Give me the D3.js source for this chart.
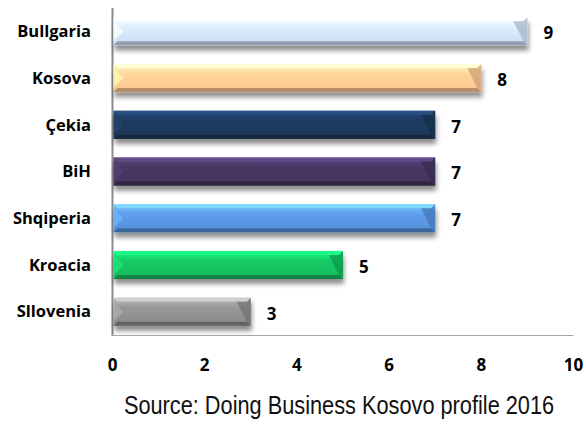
<!DOCTYPE html>
<html>
<head>
<meta charset="utf-8">
<script src="https://cdn.jsdelivr.net/npm/d3@7"></script>
<style>
  body { margin: 0; background: #fff; }
  svg { display: block; }
</style>
</head>
<body>
<svg width="586" height="426"></svg>
<script>
  var categories = ["Bullgaria", "Kosova", "Çekia", "BiH", "Shqiperia", "Kroacia", "Sllovenia"];
  var values = [9, 8, 7, 7, 7, 5, 3];
  var barColors = ["#c9dbf2", "#fbc48e", "#1c3658", "#43335d", "#5690d8", "#12b95c", "#8a8a8a"];
  var xTicks = [0, 2, 4, 6, 8, 10];
  var source = "Source: Doing Business Kosovo profile 2016";

  var svg = d3.select("svg");
  var defs = svg.append("defs");
  var labelFont = "'Open Sans', Lato, sans-serif";

  var x = d3.scaleLinear().domain([0, 10]).range([112.5, 573.5]);
  var y = d3.scaleBand().domain(categories).range([8, 335]).paddingInner(0.4).paddingOuter(0.2);

  var shadow = defs.append("filter").attr("id", "shadow")
    .attr("x", "-5%").attr("y", "-30%").attr("width", "110%").attr("height", "180%");
  shadow.append("feGaussianBlur").attr("in", "SourceAlpha").attr("stdDeviation", 2.5);
  shadow.append("feOffset").attr("dx", 1).attr("dy", 5).attr("result", "off");
  shadow.append("feComponentTransfer").append("feFuncA").attr("type", "linear").attr("slope", 0.45);
  var merge = shadow.append("feMerge");
  merge.append("feMergeNode");
  merge.append("feMergeNode").attr("in", "SourceGraphic");

  var data = categories.map(function (c, i) {
    return { name: c, value: values[i], color: barColors[i], i: i };
  });

  data.forEach(function (d) {
    var g = defs.append("linearGradient").attr("id", "grad" + d.i)
      .attr("x1", 0).attr("y1", 0).attr("x2", 0).attr("y2", 1);
    var c = d3.color(d.color);
    g.append("stop").attr("offset", "0%").attr("stop-color", c.brighter(0.9));
    g.append("stop").attr("offset", "35%").attr("stop-color", c.brighter(0.25));
    g.append("stop").attr("offset", "100%").attr("stop-color", c);
  });

  // axes lines
  svg.append("line").attr("x1", x(0)).attr("x2", x(0)).attr("y1", 8).attr("y2", 336)
    .attr("stroke", "#8c8c8c").attr("stroke-width", 2);
  svg.append("line").attr("x1", x(0)).attr("x2", x(10)).attr("y1", 335.5).attr("y2", 335.5)
    .attr("stroke", "#a6a6a6").attr("stroke-width", 1);

  var bev = 4;
  var bars = svg.append("g").selectAll("g").data(data).join("g")
    .attr("filter", "url(#shadow)");

  bars.append("rect")
    .attr("x", x(0) + 1)
    .attr("y", function (d) { return y(d.name); })
    .attr("width", function (d) { return x(d.value) - x(0) - 1; })
    .attr("height", y.bandwidth())
    .attr("fill", function (d) { return "url(#grad" + d.i + ")"; });

  // bevel edges
  function pts(d) {
    return { x0: x(0) + 1, x1: x(d.value), y0: y(d.name), y1: y(d.name) + y.bandwidth() };
  }
  bars.append("path")
    .attr("fill", function (d) { return d3.color(d.color).brighter(1.2); })
    .attr("opacity", 0.8)
    .attr("d", function (d) {
      var p = pts(d);
      return "M" + p.x0 + "," + p.y0 + "L" + p.x1 + "," + p.y0 + "L" + (p.x1 - bev) + "," + (p.y0 + bev) +
        "L" + (p.x0 + bev) + "," + (p.y0 + bev) + "Z";
    });
  bars.append("path")
    .attr("fill", function (d) { return d3.color(d.color).darker(0.9); })
    .attr("d", function (d) {
      var p = pts(d);
      return "M" + p.x0 + "," + p.y1 + "L" + p.x1 + "," + p.y1 + "L" + (p.x1 - bev) + "," + (p.y1 - bev) +
        "L" + (p.x0 + bev) + "," + (p.y1 - bev) + "Z";
    });
  bars.append("path")
    .attr("fill", function (d) { return d3.color(d.color).darker(0.6); })
    .attr("d", function (d) {
      var p = pts(d);
      return "M" + p.x1 + "," + p.y0 + "L" + p.x1 + "," + p.y1 + "L" + (p.x1 - bev) + "," + (p.y1 - bev) +
        "L" + (p.x1 - 14) + "," + (p.y0 + bev) + "L" + (p.x1 - bev) + "," + (p.y0 + bev) + "Z";
    })
    .attr("opacity", 0.7);
  bars.append("path")
    .attr("fill", function (d) { return d3.color(d.color).brighter(0.7); })
    .attr("opacity", 0.7)
    .attr("d", function (d) {
      var p = pts(d);
      var m = (p.y0 + p.y1) / 2;
      return "M" + p.x0 + "," + (p.y0 + bev) + "L" + (p.x0 + 10) + "," + m + "L" + p.x0 + "," + (p.y1 - bev) + "Z";
    });

  // category labels
  svg.append("g").selectAll("text").data(data).join("text")
    .attr("x", 91)
    .attr("y", function (d) { return y(d.name) + y.bandwidth() / 2; })
    .attr("dy", "0.35em")
    .attr("text-anchor", "end")
    .attr("font-family", labelFont)
    .attr("font-weight", "bold")
    .attr("font-size", 16.5)
    .attr("fill", "#000")
    .text(function (d) { return d.name; });

  // value labels
  svg.append("g").selectAll("text").data(data).join("text")
    .attr("x", function (d) { return x(d.value) + 16; })
    .attr("y", function (d) { return y(d.name) + y.bandwidth() / 2 + 2; })
    .attr("dy", "0.35em")
    .attr("font-family", labelFont)
    .attr("font-weight", "bold")
    .attr("font-size", 17)
    .attr("fill", "#000")
    .text(function (d) { return d.value; });

  // x tick labels
  svg.append("g").selectAll("text").data(xTicks).join("text")
    .attr("x", function (d) { return x(d); })
    .attr("y", 365)
    .attr("dy", "0.35em")
    .attr("text-anchor", "middle")
    .attr("font-family", labelFont)
    .attr("font-weight", "bold")
    .attr("font-size", 17)
    .attr("fill", "#000")
    .text(function (d) { return d; });

  // source note, squeezed horizontally like a narrow face
  svg.append("text")
    .attr("transform", "translate(339,414) scale(0.87,1)")
    .attr("text-anchor", "middle")
    .attr("font-family", "'Liberation Sans', Arial, sans-serif")
    .attr("font-size", 25)
    .attr("fill", "#111")
    .text(source);
</script>
</body>
</html>
